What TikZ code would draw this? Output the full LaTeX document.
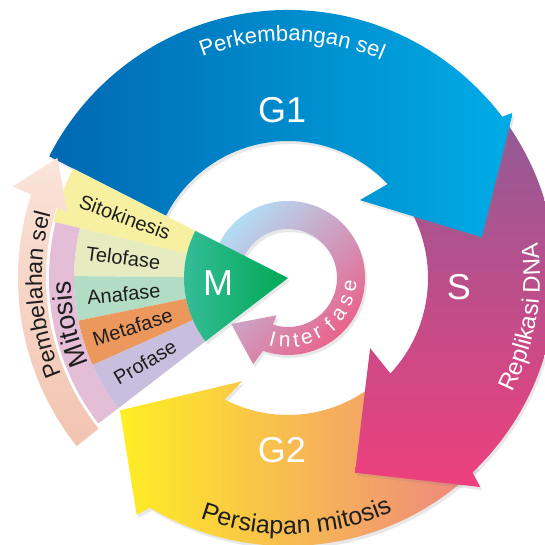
\documentclass[tikz,border=0pt]{standalone}
\usepackage{fontspec}
\setmainfont{Liberation Sans}
\usetikzlibrary{decorations.text,shadows}

\definecolor{gonedark}{RGB}{0,104,178}
\definecolor{gonelight}{RGB}{0,172,230}
\definecolor{spurple}{RGB}{140,92,152}
\definecolor{spink}{RGB}{238,64,124}
\definecolor{gtwoyellow}{RGB}{255,238,36}
\definecolor{gtwosalmon}{RGB}{238,132,130}
\definecolor{mleft}{RGB}{56,190,156}
\definecolor{mright}{RGB}{0,168,84}
\definecolor{ringblue}{RGB}{178,222,246}
\definecolor{ringpink}{RGB}{236,92,134}
\definecolor{sito}{RGB}{247,240,160}
\definecolor{telo}{RGB}{230,236,192}
\definecolor{ana}{RGB}{178,220,196}
\definecolor{meta}{RGB}{236,152,92}
\definecolor{pro}{RGB}{200,190,222}
\definecolor{mito}{RGB}{228,190,214}
\definecolor{pembtop}{RGB}{250,228,218}
\definecolor{pembbot}{RGB}{242,196,176}
\definecolor{ink}{RGB}{30,30,30}

\newcommand\arcfont[1]{\fontsize{#1}{#1}\selectfont}

\tikzset{
  phase/.style={font=\arcfont{20}, text=ink},
  big/.style={font=\arcfont{36}, text=white},
  ringtext/.style={font=\arcfont{21}, text=white},
  castshadow/.style={drop shadow={opacity=.18, shadow xshift=2pt, shadow yshift=-3pt}},
}

\begin{document}
\begin{tikzpicture}[x=1pt,y=1pt]
	\useasboundingbox (-288,-267) rectangle (257,278);
	\clip (-288,-267) rectangle (257,278);
	\fill[white] (-288,-267) rectangle (257,278);

	% G2
	\shade[castshadow, left color=gtwoyellow, right color=gtwosalmon]
	(-45:268) arc[start angle=-45, end angle=-121, radius=268] -- (-122.6:281)
	-- (-141.8:214) -- (-114:113) -- (-117.5:137)
	arc[start angle=-117.5, end angle=-45, radius=137] -- cycle;

	% S
	\shade[castshadow, top color=spurple, bottom color=spink]
	(42:268) arc[start angle=42, end angle=-46.5, radius=268] -- (-47.4:284)
	-- (-71:206) -- (-40.5:108) -- (-43:140)
	arc[start angle=-43, end angle=42, radius=140] -- cycle;

	% G1
	\shade[castshadow, left color=gonedark, right color=gonelight]
	(153:268) arc[start angle=153, end angle=37, radius=268] -- (36.3:279)
	-- (11.9:198) -- (47.3:106) -- (43.3:137)
	arc[start angle=43.3, end angle=153, radius=137] -- cycle;

	% interfase ring
	\shade[castshadow, top color=ringblue, bottom color=ringpink, shading angle=45]
	(170:77) arc[start angle=170, end angle=-109, radius=77] -- (-112:93)
	-- (-141:73) -- (-107:39) -- (-108:49)
	arc[start angle=-108, end angle=170, radius=49] -- cycle;

	% phases
	\fill[sito] (153:104) arc[start angle=153, end angle=166.5, radius=104]
	-- (166.5:241) arc[start angle=166.5, end angle=153, radius=241] -- cycle;
	\foreach \a/\b/\c in {166.5/179.5/telo, 179.5/191.5/ana, 191.5/204/meta, 204/217.5/pro}
	\fill[\c] (\a:104) arc[start angle=\a, end angle=\b, radius=104]
	-- (\b:214) arc[start angle=\b, end angle=\a, radius=214] -- cycle;
	\fill[mito] (166.5:214) arc[start angle=166.5, end angle=217.5, radius=214]
	-- (217.5:239) arc[start angle=217.5, end angle=166.5, radius=239] -- cycle;

	% pembelahan sel arrow
	\shade[top color=pembtop, bottom color=pembbot]
	(218.5:242) arc[start angle=218.5, end angle=163, radius=242] -- (163.5:230)
	-- (152.5:260) -- (161.6:290) -- (162:270)
	arc[start angle=162, end angle=218.5, radius=270] -- cycle;

	% M
	\shade[castshadow, left color=mleft, right color=mright]
	(0,0) -- (153:104) arc[start angle=153, end angle=217.5, radius=104] -- cycle;

	% labels
	\node[big] (G1) at (92:168) {G1};
	\node[big] (S) at (-3:171) {S};
	\node[big] (G2) at (-92:172) {G2};
	\node[big] (M) at (184:70) {M};
	\foreach \t/\a/\r/\n in {Sitokinesis/159.5/174/sito, Telofase/173/166/telo,
		Anafase/185.5/165/ana, Metafase/197.5/163/meta, Profase/210.5/166/pro}
	\node[phase, rotate=\a-180] (\n) at (\a:\r) {\t};
	\foreach \ch/\a [count=\i] in {I/-104, n/-93, t/-82.5, e/-72.5, r/-61.5,
		f/-48.5, a/-35, s/-21, e/-7}
	\node[ringtext, rotate=\a+90] (int\i) at (\a:63) {\ch};

	% curved texts
	\path[decorate, decoration={text along path, text align=center,
		text={|\arcfont{22}\color{white}|Perkembangan sel}}]
	(131:237) arc[start angle=131, end angle=47, radius=237];
	\path[decorate, decoration={text along path, text align=center,
		text={|\arcfont{24}\color{white}|Replikasi DNA}}]
	(-50:252) arc[start angle=-50, end angle=31, radius=252];
	\path[decorate, decoration={text along path, text align=center,
		text={|\arcfont{25}\color{ink}|Persiapan mitosis}}]
	(-128:256) arc[start angle=-128, end angle=-48, radius=256];
	\path[decorate, decoration={text along path, text align=center,
		text={|\arcfont{23}\color{ink}|Pembelahan sel}}]
	(224:246) arc[start angle=224, end angle=144, radius=246];
	\path[decorate, decoration={text along path, text align=center,
		text={|\arcfont{27}\color{ink}|Mitosis}}]
	(232:217) arc[start angle=232, end angle=152, radius=217];
\end{tikzpicture}
\end{document}
